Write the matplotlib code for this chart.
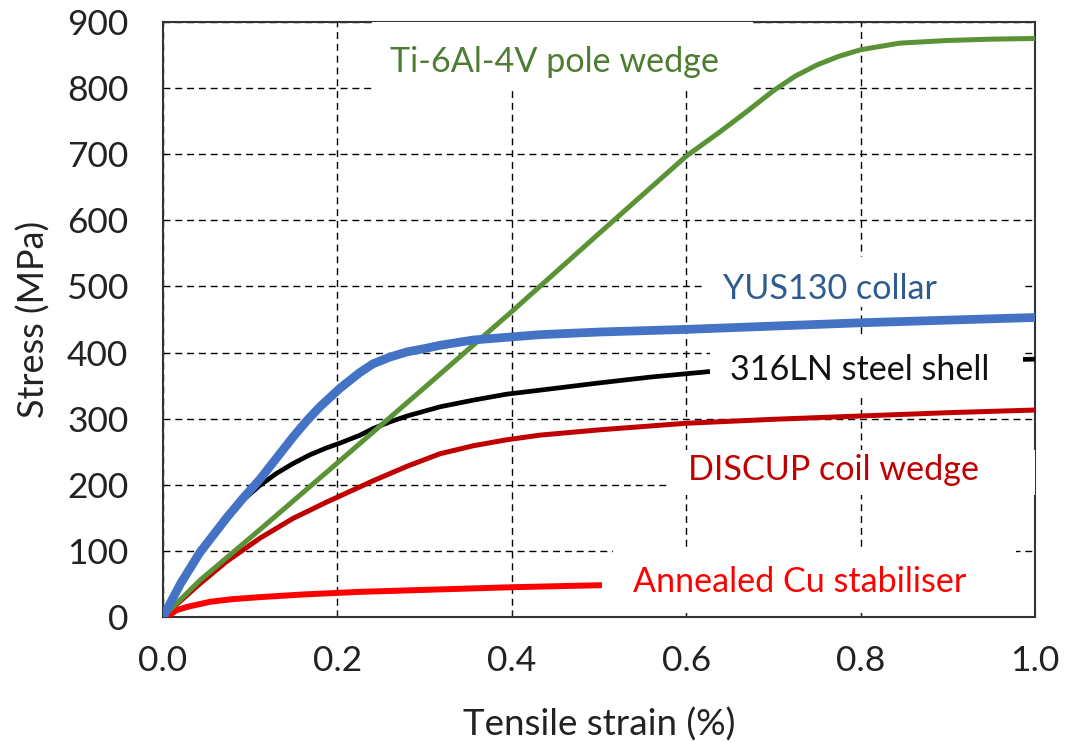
import matplotlib.pyplot as plt
from matplotlib.patches import Rectangle

plt.rcParams['font.family'] = ['Lato', 'DejaVu Sans']

# stress-strain curves (strain in %, stress in MPa)
ti_strain = [0, 0.042, 0.111, 0.2, 0.3, 0.4, 0.5, 0.6, 0.639, 0.67, 0.7, 0.725, 0.75, 0.775,
             0.8, 0.845, 0.9, 0.95, 1.0]
ti_stress = [0, 55, 132, 233, 347, 462, 580, 697, 734, 765, 796, 818, 835, 848,
             858, 868, 872, 874, 875]

yus_strain = [0, 0.02, 0.042, 0.073, 0.092, 0.111, 0.13, 0.149, 0.165, 0.18, 0.203, 0.226,
              0.241, 0.26, 0.28, 0.3, 0.318, 0.356, 0.394, 0.432, 0.5, 0.6, 0.7, 0.8, 0.9, 1.0]
yus_stress = [0, 50, 97, 150, 180, 208, 240, 272, 297, 318, 346, 370,
              383, 393, 401, 406, 411, 419, 423, 427, 431, 435, 440, 445, 449, 453]

ss_strain = [0, 0.02, 0.042, 0.073, 0.092, 0.111, 0.13, 0.149, 0.168, 0.188, 0.203, 0.226,
             0.241, 0.26, 0.28, 0.318, 0.356, 0.394, 0.432, 0.5, 0.56, 0.625, 0.7, 0.8, 0.9, 1.0]
ss_stress = [0, 51, 101, 152, 177, 199, 217, 232, 245, 256, 263, 275,
             285, 295, 304, 318, 328, 337, 343, 354, 363, 371, 377, 383, 387, 390]

discup_strain = [0, 0.008, 0.042, 0.073, 0.111, 0.149, 0.188, 0.203, 0.241, 0.28, 0.318,
                 0.356, 0.394, 0.432, 0.5, 0.6, 0.7, 0.8, 0.9, 1.0]
discup_stress = [0, 10, 50, 84, 119, 149, 174, 183, 206, 228, 247,
                 259, 268, 275, 283, 293, 299, 304, 309, 313]

cu_strain = [0.008, 0.015, 0.027, 0.054, 0.08, 0.111, 0.16, 0.226, 0.3, 0.4, 0.5]
cu_stress = [3, 10, 15, 23, 27, 30, 34, 38, 41, 45, 48]

x_ticks = [0.0, 0.2, 0.4, 0.6, 0.8, 1.0]
y_ticks = [0, 100, 200, 300, 400, 500, 600, 700, 800, 900]

fig = plt.figure(figsize=(10.66, 7.42), dpi=100)
ax = fig.add_axes([0.1529, 0.1685, 0.818, 0.8019])

ax.set_xlim(0, 1.0)
ax.set_ylim(0, 900)
ax.set_xticks(x_ticks)
ax.set_yticks(y_ticks)
ax.set_xticklabels([f'{v:.1f}' for v in x_ticks])
ax.tick_params(axis='both', labelsize=25.5, colors='#222222')
ax.tick_params(axis='x', direction='in', length=5, pad=20)
ax.tick_params(axis='y', length=0, pad=25)
for sp in ax.spines.values():
    sp.set_linewidth(1.5)
    sp.set_color('#333333')

ax.grid(True, color='black', linestyle=(0, (5, 3.5)), linewidth=1.0, zorder=1)
ax.set_axisbelow(True)

ax.plot(discup_strain, discup_stress, color='#C00000', lw=3.6, zorder=3)
ax.plot(cu_strain, cu_stress, color='#FF0000', lw=4.3, zorder=3)
ax.plot(ss_strain, ss_stress, color='black', lw=3.4, zorder=3)
ax.plot(ti_strain, ti_stress, color='#5B9236', lw=3.6, zorder=4)
ax.plot(yus_strain, yus_stress, color='#4472C4', lw=6.3, zorder=5)

# white text boxes sitting over the grid
boxes = [
    (0.240, 795, 0.437, 105),
    (0.619, 469, 0.366, 76),
    (0.627, 333, 0.359, 91),
    (0.579, 185, 0.430, 68),
    (0.516, 6, 0.462, 100),
]
for x0, y0, w, h in boxes:
    ax.add_patch(Rectangle((x0, y0), w, h, facecolor='white', edgecolor='none', zorder=6))

fs = 24.6
ax.text(0.260, 840, 'Ti-6Al-4V pole wedge', color='#4E7C32', fontsize=fs, va='center', zorder=7)
ax.text(0.642, 496, 'YUS130 collar', color='#2F5C8F', fontsize=fs, va='center', zorder=7)
ax.text(0.650, 374, '316LN steel shell', color='#111111', fontsize=fs, va='center', zorder=7)
ax.text(0.602, 222, 'DISCUP coil wedge', color='#C00000', fontsize=fs, va='center', zorder=7)
ax.text(0.539, 53, 'Annealed Cu stabiliser', color='#FF0000', fontsize=fs, va='center', zorder=7)

ax.set_xlabel('Tensile strain (%)', fontsize=26.5, labelpad=22, color='#222222')
ax.set_ylabel('Stress (MPa)', fontsize=26, labelpad=12, color='#222222')

fig.savefig('out.png', dpi=100)
